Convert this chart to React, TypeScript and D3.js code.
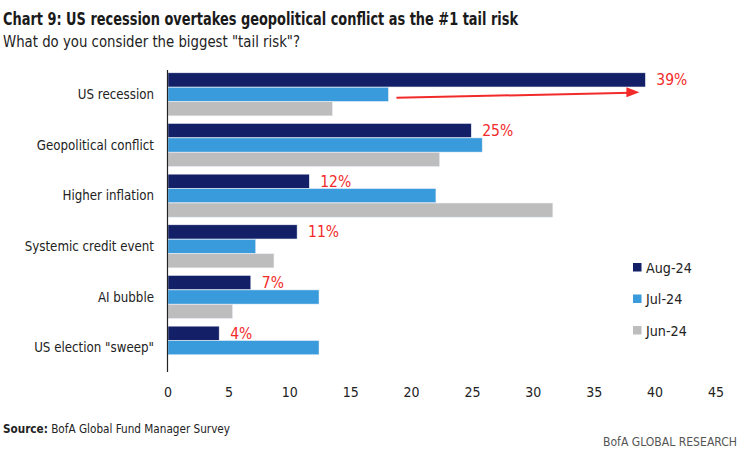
import React from "react";
import * as d3 from "d3";

const categories = [
  "US recession",
  "Geopolitical conflict",
  "Higher inflation",
  "Systemic credit event",
  "AI bubble",
  'US election "sweep"',
];
const seriesNames = ["Aug-24", "Jul-24", "Jun-24"];
const aug24 = [39.2, 24.9, 11.6, 10.6, 6.8, 4.2];
const jul24 = [18.1, 25.8, 22.0, 7.2, 12.4, 12.4];
const jun24 = [13.5, 22.3, 31.6, 8.7, 5.3, 0];
const augLabels = ["39%", "25%", "12%", "11%", "7%", "4%"];
const xTicks = [0, 5, 10, 15, 20, 25, 30, 35, 40, 45];

const colors = ["#131F66", "#3A9BDC", "#BDBDBD"];
const RED = "#F22A2A";
const FONT = "'DejaVu Sans Condensed', 'Roboto', sans-serif";

export default function App() {
  const W = 748;
  const H = 455;
  const x = d3.scaleLinear().domain([0, 45]).range([168, 716]);
  const y = d3
    .scaleBand<string>()
    .domain(categories)
    .range([69, 373])
    .paddingInner(0.14)
    .paddingOuter(0.07);
  const sub = d3
    .scaleBand<string>()
    .domain(seriesNames)
    .range([0, y.bandwidth()])
    .padding(0.02);
  const series = [aug24, jul24, jun24];

  const arrowX1 = x(18.1) + 8;
  const arrowX2 = x(39.2) - 6;
  const arrowY1 = (y(categories[0]) as number) + sub("Jul-24")! + sub.bandwidth() * 0.75;
  const arrowY2 = arrowY1 - 5.5;

  return (
    <svg
      width={W}
      height={H}
      style={{ position: "absolute", left: 0, top: 0, background: "#fff" }}
      fontFamily={FONT}
    >
      <rect width={W} height={H} fill="#fff" />
      <text
        x={3}
        y={25}
        fontSize={17.5}
        fontWeight="bold"
        fill="#1a1a1a"
        textLength={515}
        lengthAdjust="spacingAndGlyphs"
      >
        Chart 9: US recession overtakes geopolitical conflict as the #1 tail risk
      </text>
      <text x={3} y={47} fontSize={15.5} fill="#222" textLength={297} lengthAdjust="spacingAndGlyphs">
        What do you consider the biggest "tail risk"?
      </text>

      {series.map((vals, si) =>
        vals.map((v, i) =>
          v > 0 ? (
            <rect
              key={`${si}-${i}`}
              x={x(0)}
              y={(y(categories[i]) as number) + (sub(seriesNames[si]) as number)}
              width={x(v) - x(0)}
              height={sub.bandwidth()}
              fill={colors[si]}
              stroke="#e8eef6"
              strokeWidth={0.5}
            />
          ) : null
        )
      )}

      {aug24.map((v, i) => (
        <text
          key={`lab-${i}`}
          x={x(v) + 11}
          y={(y(categories[i]) as number) + (sub("Aug-24") as number) + sub.bandwidth() / 2}
          dy="0.36em"
          fontSize={15.5}
          fill={RED}
        >
          {augLabels[i]}
        </text>
      ))}

      <line x1={x(0) - 0.5} x2={x(0) - 0.5} y1={70} y2={372} stroke="#222" strokeWidth={1.2} />

      {categories.map((c, i) => (
        <text
          key={c}
          x={154}
          y={(y(c) as number) + y.bandwidth() / 2}
          dy="0.36em"
          textAnchor="end"
          fontSize={13.2}
          fill="#222"
        >
          {c}
        </text>
      ))}

      {xTicks.map((t) => (
        <text key={t} x={x(t)} y={392} dy="0.36em" textAnchor="middle" fontSize={14} fill="#222">
          {t}
        </text>
      ))}

      <line x1={arrowX1} y1={arrowY1} x2={arrowX2 - 8} y2={arrowY2 + 0.3} stroke={RED} strokeWidth={2} />
      <path
        d={`M${arrowX2},${arrowY2} L${arrowX2 - 13},${arrowY2 - 5} L${arrowX2 - 13},${arrowY2 + 5} Z`}
        fill={RED}
      />

      {seriesNames.map((s, i) => (
        <g key={s} transform={`translate(633, ${263 + i * 31.5})`}>
          <rect x={0} y={0} width={8.5} height={8.5} fill={colors[i]} />
          <text x={13} y={4.5} dy="0.36em" fontSize={14.2} fill="#222">
            {s}
          </text>
        </g>
      ))}

      <text x={3} y={433} fontSize={12.5} fill="#222" textLength={227} lengthAdjust="spacingAndGlyphs">
        <tspan fontWeight="bold">Source:</tspan> BofA Global Fund Manager Survey
      </text>
      <text
        x={737}
        y={446}
        textAnchor="end"
        fontSize={13}
        fill="#555"
        textLength={134}
        lengthAdjust="spacingAndGlyphs"
      >
        BofA GLOBAL RESEARCH
      </text>
    </svg>
  );
}
